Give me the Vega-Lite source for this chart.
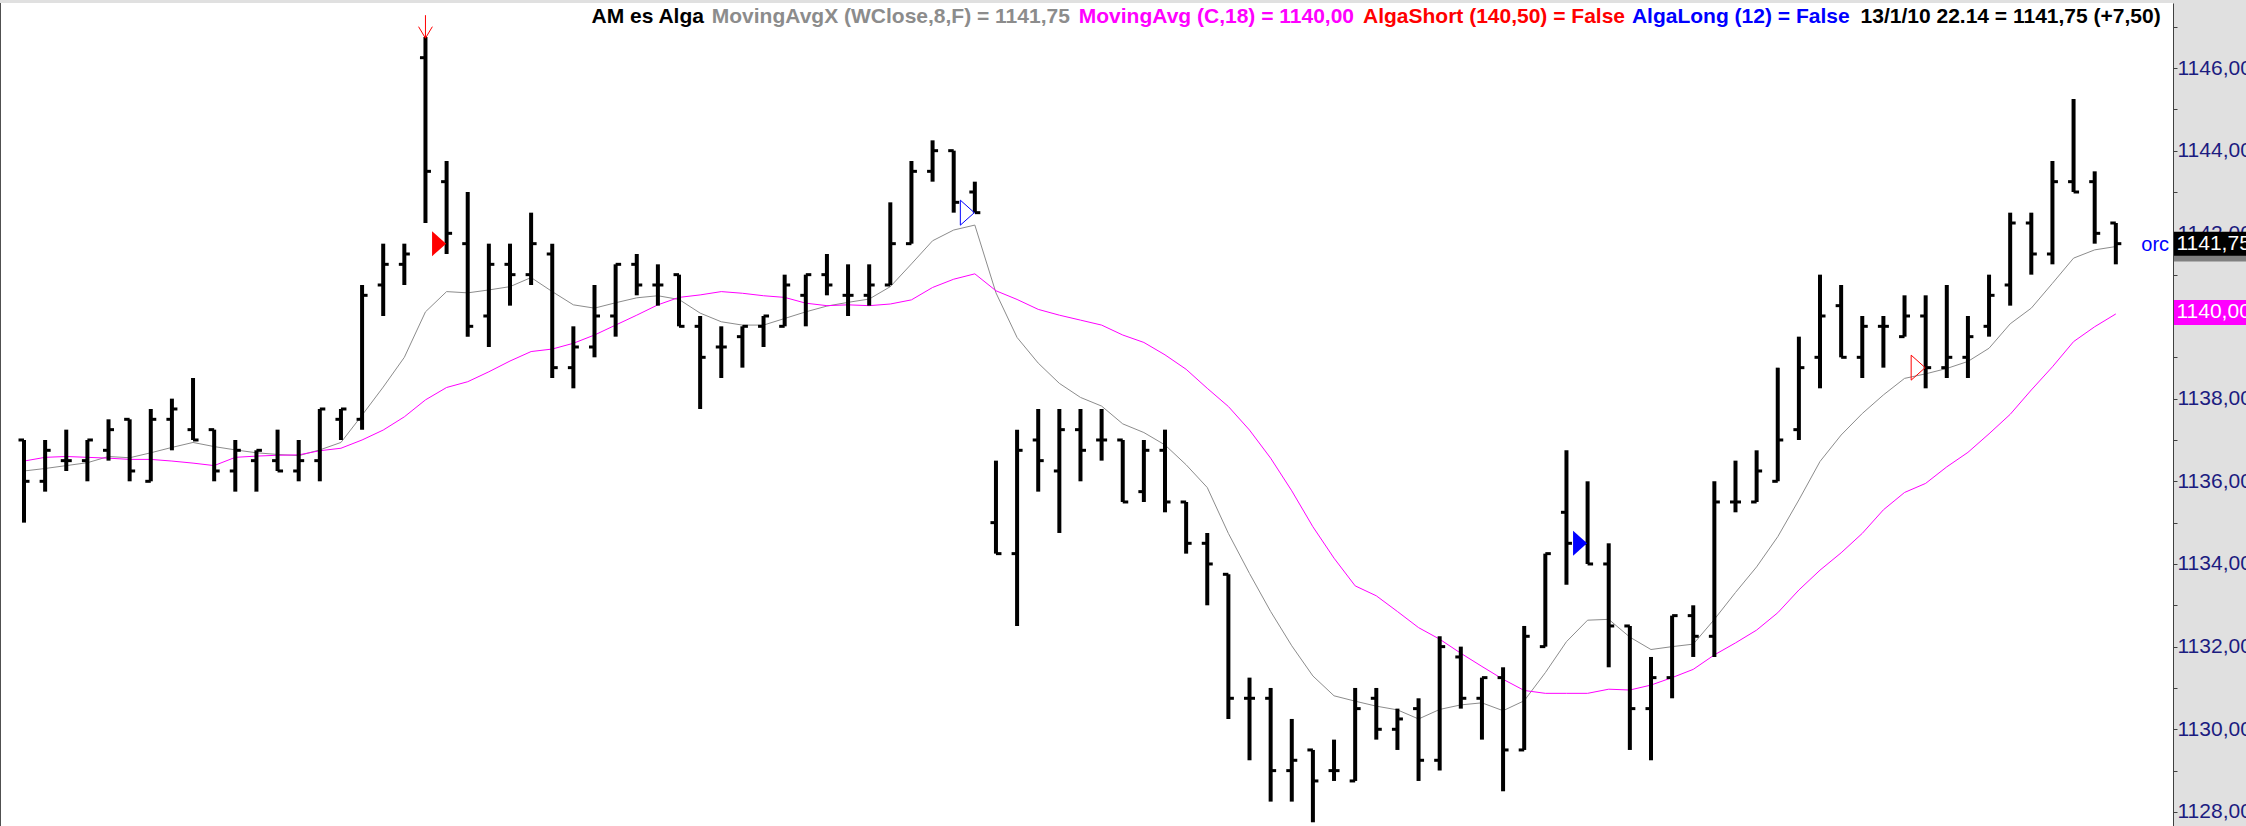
{
"$schema":"https://vega.github.io/schema/vega-lite/v6.json",
"width":2173,"height":823,"autosize":"none",
"padding":{"left":0,"top":3,"right":73,"bottom":0},
"background":"#e0e0e0",
"view":{"fill":"#ffffff","stroke":null},
"data":{"values":[
{"i":0,"o":1137,"h":1137,"l":1135,"c":1136,"a":1136.25,"m":1136.49},
{"i":1,"o":1136,"h":1137,"l":1135.75,"c":1136.75,"a":1136.31,"m":1136.58},
{"i":2,"o":1136.5,"h":1137.25,"l":1136.25,"c":1136.5,"a":1136.38,"m":1136.6},
{"i":3,"o":1136.5,"h":1137,"l":1136,"c":1137,"a":1136.45,"m":1136.58},
{"i":4,"o":1136.75,"h":1137.5,"l":1136.5,"c":1137.25,"a":1136.6,"m":1136.56},
{"i":5,"o":1137.5,"h":1137.5,"l":1136,"c":1136.25,"a":1136.57,"m":1136.53},
{"i":6,"o":1136,"h":1137.75,"l":1136,"c":1137.5,"a":1136.69,"m":1136.53},
{"i":7,"o":1137.5,"h":1138,"l":1136.75,"c":1137.75,"a":1136.82,"m":1136.49},
{"i":8,"o":1137.25,"h":1138.5,"l":1137,"c":1137,"a":1136.94,"m":1136.44},
{"i":9,"o":1137.25,"h":1137.25,"l":1136,"c":1136.25,"a":1136.84,"m":1136.38},
{"i":10,"o":1136.25,"h":1137,"l":1135.75,"c":1136.75,"a":1136.76,"m":1136.58},
{"i":11,"o":1136.5,"h":1136.75,"l":1135.75,"c":1136.75,"a":1136.69,"m":1136.61},
{"i":12,"o":1136.5,"h":1137.25,"l":1136.25,"c":1136.25,"a":1136.65,"m":1136.63},
{"i":13,"o":1136.25,"h":1137,"l":1136,"c":1136.5,"a":1136.62,"m":1136.64},
{"i":14,"o":1136.5,"h":1137.75,"l":1136,"c":1137.75,"a":1136.76,"m":1136.74},
{"i":15,"o":1137.5,"h":1137.75,"l":1137,"c":1137.75,"a":1136.94,"m":1136.8},
{"i":16,"o":1137.5,"h":1140.75,"l":1137.25,"c":1140.5,"a":1137.6,"m":1137.0},
{"i":17,"o":1140.75,"h":1141.75,"l":1140,"c":1141.25,"a":1138.28,"m":1137.24},
{"i":18,"o":1141.25,"h":1141.75,"l":1140.75,"c":1141.5,"a":1139.0,"m":1137.56},
{"i":19,"o":1146.25,"h":1146.75,"l":1142.25,"c":1143.5,"a":1140.1,"m":1137.97},
{"i":20,"o":1143.25,"h":1143.75,"l":1141.5,"c":1142,"a":1140.59,"m":1138.27},
{"i":21,"o":1141.75,"h":1143,"l":1139.5,"c":1139.75,"a":1140.56,"m":1138.41},
{"i":22,"o":1140,"h":1141.75,"l":1139.25,"c":1141.25,"a":1140.63,"m":1138.65},
{"i":23,"o":1141.25,"h":1141.75,"l":1140.25,"c":1141,"a":1140.71,"m":1138.91},
{"i":24,"o":1141,"h":1142.5,"l":1140.75,"c":1141.75,"a":1140.93,"m":1139.14},
{"i":25,"o":1141.5,"h":1141.75,"l":1138.5,"c":1138.75,"a":1140.59,"m":1139.2},
{"i":26,"o":1138.75,"h":1139.75,"l":1138.25,"c":1139.25,"a":1140.27,"m":1139.34},
{"i":27,"o":1139.25,"h":1140.75,"l":1139,"c":1140,"a":1140.19,"m":1139.54},
{"i":28,"o":1140,"h":1141.25,"l":1139.5,"c":1141.25,"a":1140.32,"m":1139.78},
{"i":29,"o":1141.25,"h":1141.5,"l":1140.5,"c":1140.75,"a":1140.44,"m":1140.02},
{"i":30,"o":1140.75,"h":1141.25,"l":1140.25,"c":1140.75,"a":1140.49,"m":1140.27},
{"i":31,"o":1141,"h":1141,"l":1139.75,"c":1139.75,"a":1140.4,"m":1140.45},
{"i":32,"o":1139.75,"h":1140,"l":1137.75,"c":1139,"a":1140.07,"m":1140.51},
{"i":33,"o":1139.25,"h":1139.75,"l":1138.5,"c":1139.25,"a":1139.86,"m":1140.59},
{"i":34,"o":1139.5,"h":1139.75,"l":1138.75,"c":1139.75,"a":1139.78,"m":1140.55},
{"i":35,"o":1139.75,"h":1140,"l":1139.25,"c":1140,"a":1139.78,"m":1140.49},
{"i":36,"o":1139.75,"h":1141,"l":1139.75,"c":1140.75,"a":1139.94,"m":1140.45},
{"i":37,"o":1140.5,"h":1141,"l":1139.75,"c":1141,"a":1140.1,"m":1140.31},
{"i":38,"o":1141,"h":1141.5,"l":1140.5,"c":1140.75,"a":1140.24,"m":1140.25},
{"i":39,"o":1140.5,"h":1141.25,"l":1140,"c":1140.5,"a":1140.33,"m":1140.27},
{"i":40,"o":1140.5,"h":1141.25,"l":1140.25,"c":1140.75,"a":1140.41,"m":1140.25},
{"i":41,"o":1140.75,"h":1142.75,"l":1140.75,"c":1141.75,"a":1140.71,"m":1140.29},
{"i":42,"o":1141.75,"h":1143.75,"l":1141.75,"c":1143.5,"a":1141.26,"m":1140.39},
{"i":43,"o":1143.5,"h":1144.25,"l":1143.25,"c":1144,"a":1141.82,"m":1140.69},
{"i":44,"o":1144,"h":1144,"l":1142.5,"c":1142.75,"a":1142.08,"m":1140.89},
{"i":45,"o":1143,"h":1143.25,"l":1142.5,"c":1142.5,"a":1142.2,"m":1141.02},
{"i":46,"o":1135,"h":1136.5,"l":1134.25,"c":1134.25,"a":1140.56,"m":1140.61},
{"i":47,"o":1134.25,"h":1137.25,"l":1132.5,"c":1136.75,"a":1139.48,"m":1140.4},
{"i":48,"o":1137,"h":1137.75,"l":1135.75,"c":1136.5,"a":1138.86,"m":1140.16},
{"i":49,"o":1136.25,"h":1137.75,"l":1134.75,"c":1137.25,"a":1138.37,"m":1140.02},
{"i":50,"o":1137.25,"h":1137.75,"l":1136,"c":1136.75,"a":1138.03,"m":1139.9},
{"i":51,"o":1137,"h":1137.75,"l":1136.5,"c":1137,"a":1137.82,"m":1139.78},
{"i":52,"o":1137,"h":1137,"l":1135.5,"c":1135.5,"a":1137.39,"m":1139.54},
{"i":53,"o":1135.75,"h":1137,"l":1135.5,"c":1136.75,"a":1137.18,"m":1139.36},
{"i":54,"o":1136.75,"h":1137.25,"l":1135.25,"c":1135.5,"a":1136.88,"m":1139.06},
{"i":55,"o":1135.5,"h":1135.5,"l":1134.25,"c":1134.5,"a":1136.4,"m":1138.71},
{"i":56,"o":1134.5,"h":1134.75,"l":1133,"c":1134,"a":1135.85,"m":1138.25},
{"i":57,"o":1133.75,"h":1133.75,"l":1130.25,"c":1130.75,"a":1134.74,"m":1137.81},
{"i":58,"o":1130.75,"h":1131.25,"l":1129.25,"c":1130.75,"a":1133.77,"m":1137.24},
{"i":59,"o":1130.75,"h":1131,"l":1128.25,"c":1129,"a":1132.85,"m":1136.56},
{"i":60,"o":1129,"h":1130.25,"l":1128.25,"c":1129.25,"a":1132.02,"m":1135.77},
{"i":61,"o":1129.5,"h":1129.5,"l":1127.75,"c":1128.75,"a":1131.29,"m":1134.9},
{"i":62,"o":1129,"h":1129.75,"l":1128.75,"c":1129,"a":1130.81,"m":1134.14},
{"i":63,"o":1128.75,"h":1131,"l":1128.75,"c":1130.5,"a":1130.68,"m":1133.47},
{"i":64,"o":1130.75,"h":1131,"l":1129.75,"c":1130,"a":1130.56,"m":1133.23},
{"i":65,"o":1130,"h":1130.5,"l":1129.5,"c":1130.25,"a":1130.47,"m":1132.85},
{"i":66,"o":1130.5,"h":1130.75,"l":1128.75,"c":1129.25,"a":1130.25,"m":1132.46},
{"i":67,"o":1129.25,"h":1132.25,"l":1129,"c":1132,"a":1130.48,"m":1132.18},
{"i":68,"o":1131.75,"h":1132,"l":1130.5,"c":1130.75,"a":1130.59,"m":1131.84},
{"i":69,"o":1130.75,"h":1131.25,"l":1129.75,"c":1131.25,"a":1130.64,"m":1131.52},
{"i":70,"o":1131.25,"h":1131.5,"l":1128.5,"c":1129.5,"a":1130.45,"m":1131.21},
{"i":71,"o":1129.5,"h":1132.5,"l":1129.5,"c":1132.25,"a":1130.69,"m":1130.94},
{"i":72,"o":1132,"h":1134.25,"l":1132,"c":1134.25,"a":1131.37,"m":1130.87},
{"i":73,"o":1135.25,"h":1136.75,"l":1133.5,"c":1134.5,"a":1132.12,"m":1130.87},
{"i":74,"o":1134.5,"h":1136,"l":1134,"c":1134,"a":1132.64,"m":1130.87},
{"i":75,"o":1134,"h":1134.5,"l":1131.5,"c":1132.5,"a":1132.66,"m":1130.97},
{"i":76,"o":1132.5,"h":1132.5,"l":1129.5,"c":1130.5,"a":1132.23,"m":1130.95},
{"i":77,"o":1130.5,"h":1131.75,"l":1129.25,"c":1131.25,"a":1131.93,"m":1131.07},
{"i":78,"o":1131.25,"h":1132.75,"l":1130.75,"c":1132.75,"a":1132.0,"m":1131.25},
{"i":79,"o":1132.75,"h":1133,"l":1131.75,"c":1132.25,"a":1132.06,"m":1131.45},
{"i":80,"o":1132.25,"h":1136,"l":1131.75,"c":1135.5,"a":1132.66,"m":1131.8},
{"i":81,"o":1135.5,"h":1136.5,"l":1135.25,"c":1135.5,"a":1133.31,"m":1132.09},
{"i":82,"o":1135.5,"h":1136.75,"l":1135.5,"c":1136.25,"a":1133.93,"m":1132.4},
{"i":83,"o":1136,"h":1138.75,"l":1136,"c":1137,"a":1134.66,"m":1132.82},
{"i":84,"o":1137.25,"h":1139.5,"l":1137,"c":1138.75,"a":1135.55,"m":1133.37},
{"i":85,"o":1139,"h":1141,"l":1138.25,"c":1140,"a":1136.48,"m":1133.85},
{"i":86,"o":1140.25,"h":1140.75,"l":1139,"c":1139,"a":1137.12,"m":1134.27},
{"i":87,"o":1139,"h":1140,"l":1138.5,"c":1139.75,"a":1137.64,"m":1134.74},
{"i":88,"o":1139.75,"h":1140,"l":1138.75,"c":1139.75,"a":1138.09,"m":1135.31},
{"i":89,"o":1139.5,"h":1140.5,"l":1139.5,"c":1140,"a":1138.49,"m":1135.73},
{"i":90,"o":1140,"h":1140.5,"l":1138.25,"c":1138.75,"a":1138.6,"m":1135.95},
{"i":91,"o":1138.75,"h":1140.75,"l":1138.5,"c":1139,"a":1138.73,"m":1136.35},
{"i":92,"o":1139,"h":1140,"l":1138.5,"c":1139.5,"a":1138.9,"m":1136.7},
{"i":93,"o":1139.75,"h":1141,"l":1139.5,"c":1140.5,"a":1139.22,"m":1137.15},
{"i":94,"o":1140.75,"h":1142.5,"l":1140.25,"c":1142.25,"a":1139.81,"m":1137.62},
{"i":95,"o":1142.25,"h":1142.5,"l":1141,"c":1141.5,"a":1140.19,"m":1138.21},
{"i":96,"o":1141.5,"h":1143.75,"l":1141.25,"c":1143.25,"a":1140.79,"m":1138.77},
{"i":97,"o":1143.25,"h":1145.25,"l":1143,"c":1143,"a":1141.4,"m":1139.38},
{"i":98,"o":1143.25,"h":1143.5,"l":1141.75,"c":1142,"a":1141.6,"m":1139.74},
{"i":99,"o":1142.25,"h":1142.25,"l":1141.25,"c":1141.75,"a":1141.68,"m":1140.05}
]},
"layer":[
{"mark":{"type":"line","color":"#8c8c8c","strokeWidth":1},
 "encoding":{
  "x":{"field":"i","type":"quantitative","scale":{"domain":[-1.136,101.706],"nice":false,"zero":false},"axis":null},
  "y":{"field":"a","type":"quantitative","title":null,"scale":{"domain":[1127.66,1147.573],"nice":false,"zero":false},
   "axis":{"orient":"right","title":null,"grid":false,"domain":true,"ticks":true,"labels":true,"domainColor":"#404040","tickColor":"#404040","tickSize":4,"labelColor":"#1c1c80","labelFont":"Liberation Sans","labelFontSize":21,"labelPadding":0,"labelOverlap":false,"labelFlush":false,"labelBaseline":"middle","labelAlign":"left",
    "values":[1128,1128.5,1129,1129.5,1130,1130.5,1131,1131.5,1132,1132.5,1133,1133.5,1134,1134.5,1135,1135.5,1136,1136.5,1137,1137.5,1138,1138.5,1139,1139.5,1140,1140.5,1141,1141.5,1142,1142.5,1143,1143.5,1144,1144.5,1145,1145.5,1146,1146.5,1147,1147.5],
    "labelExpr":"datum.value % 2 == 0 ? replace(format(datum.value, '.2f'), '.', ',') : ''"}}}},
{"mark":{"type":"line","color":"#ff00ff","strokeWidth":1},
 "encoding":{"x":{"field":"i","type":"quantitative","axis":null},"y":{"field":"m","type":"quantitative","title":null}}},
{"mark":{"type":"rule","color":"#000000","strokeWidth":4},
 "encoding":{"x":{"field":"i","type":"quantitative","axis":null},"y":{"field":"l","type":"quantitative","title":null},"y2":{"field":"h"}}},
{"mark":{"type":"rule","color":"#000000","strokeWidth":3,"x2Offset":-5.5},
 "encoding":{"x":{"field":"i","type":"quantitative","axis":null},"x2":{"field":"i"},"y":{"field":"o","type":"quantitative","title":null}}},
{"mark":{"type":"rule","color":"#000000","strokeWidth":3,"x2Offset":5.5},
 "encoding":{"x":{"field":"i","type":"quantitative","axis":null},"x2":{"field":"i"},"y":{"field":"c","type":"quantitative","title":null}}},
{"data":{"values":[{"k":"border"}]},"mark":{"type":"rule","color":"#505050","strokeWidth":2},
 "encoding":{"x":{"datum":-1.136,"type":"quantitative","axis":null}}},
{"data":{"values":[{"i":20,"v":1141.75}]},
 "mark":{"type":"point","shape":"M-0.56,-1L0.56,0L-0.56,1Z","size":625,"filled":true,"color":"#ff0000","opacity":1,"xOffset":-7.5},
 "encoding":{"x":{"field":"i","type":"quantitative","axis":null},"y":{"field":"v","type":"quantitative","title":null}}},
{"data":{"values":[{"i":45,"v":1142.5}]},
 "mark":{"type":"point","shape":"M-0.56,-1L0.56,0L-0.56,1Z","size":625,"filled":false,"color":"#0000ff","strokeWidth":1,"opacity":1,"xOffset":-7.5},
 "encoding":{"x":{"field":"i","type":"quantitative","axis":null},"y":{"field":"v","type":"quantitative","title":null}}},
{"data":{"values":[{"i":74,"v":1134.5}]},
 "mark":{"type":"point","shape":"M-0.56,-1L0.56,0L-0.56,1Z","size":625,"filled":true,"color":"#0000ff","opacity":1,"xOffset":-7.5},
 "encoding":{"x":{"field":"i","type":"quantitative","axis":null},"y":{"field":"v","type":"quantitative","title":null}}},
{"data":{"values":[{"i":90,"v":1138.75}]},
 "mark":{"type":"point","shape":"M-0.56,-1L0.56,0L-0.56,1Z","size":625,"filled":false,"color":"#ff0000","strokeWidth":1,"opacity":1,"xOffset":-7.5},
 "encoding":{"x":{"field":"i","type":"quantitative","axis":null},"y":{"field":"v","type":"quantitative","title":null}}},
{"data":{"values":[{"i":19,"v":1147.0}]},
 "mark":{"type":"point","shape":"M0,-1L0,1M-0.6,0L0,1L0.6,0","size":529,"filled":false,"color":"#ff0000","strokeWidth":1,"opacity":1},
 "encoding":{"x":{"field":"i","type":"quantitative","axis":null},"y":{"field":"v","type":"quantitative","title":null}}},
{"data":{"values":[{"t":"AM es Alga"}]},
 "mark":{"type":"text","font":"Liberation Sans","fontWeight":"bold","fontSize":21,"align":"left","baseline":"alphabetic","color":"#000000"},
 "encoding":{"x":{"datum":26.86,"type":"quantitative","axis":null},"y":{"datum":1147.09,"type":"quantitative","title":null},"text":{"field":"t"}}},
{"data":{"values":[{"t":"MovingAvgX (WClose,8,F) = 1141,75"}]},
 "mark":{"type":"text","font":"Liberation Sans","fontWeight":"bold","fontSize":21,"align":"left","baseline":"alphabetic","color":"#8c8c8c"},
 "encoding":{"x":{"datum":32.55,"type":"quantitative","axis":null},"y":{"datum":1147.09,"type":"quantitative","title":null},"text":{"field":"t"}}},
{"data":{"values":[{"t":"MovingAvg (C,18) = 1140,00"}]},
 "mark":{"type":"text","font":"Liberation Sans","fontWeight":"bold","fontSize":21,"align":"left","baseline":"alphabetic","color":"#ff00ff"},
 "encoding":{"x":{"datum":49.92,"type":"quantitative","axis":null},"y":{"datum":1147.09,"type":"quantitative","title":null},"text":{"field":"t"}}},
{"data":{"values":[{"t":"AlgaShort (140,50) = False"}]},
 "mark":{"type":"text","font":"Liberation Sans","fontWeight":"bold","fontSize":21,"align":"left","baseline":"alphabetic","color":"#ff0000"},
 "encoding":{"x":{"datum":63.37,"type":"quantitative","axis":null},"y":{"datum":1147.09,"type":"quantitative","title":null},"text":{"field":"t"}}},
{"data":{"values":[{"t":"AlgaLong (12) = False"}]},
 "mark":{"type":"text","font":"Liberation Sans","fontWeight":"bold","fontSize":21,"align":"left","baseline":"alphabetic","color":"#0000ff"},
 "encoding":{"x":{"datum":76.1,"type":"quantitative","axis":null},"y":{"datum":1147.09,"type":"quantitative","title":null},"text":{"field":"t"}}},
{"data":{"values":[{"t":"13/1/10 22.14 = 1141,75 (+7,50)"}]},
 "mark":{"type":"text","font":"Liberation Sans","fontWeight":"bold","fontSize":21,"align":"left","baseline":"alphabetic","color":"#000000"},
 "encoding":{"x":{"datum":86.92,"type":"quantitative","axis":null},"y":{"datum":1147.09,"type":"quantitative","title":null},"text":{"field":"t"}}},
{"data":{"values":[{"v":1141.61}]},
 "mark":{"type":"rule","color":"#808080","strokeWidth":24},
 "encoding":{"x":{"datum":101.75,"type":"quantitative","axis":null},"x2":{"datum":106},"y":{"field":"v","type":"quantitative","title":null}}},
{"data":{"values":[{"v":1141.75,"t":"1141,75"}]},
 "mark":{"type":"rule","color":"#000000","strokeWidth":24},
 "encoding":{"x":{"datum":101.75,"type":"quantitative","axis":null},"x2":{"datum":106},"y":{"field":"v","type":"quantitative","title":null}}},
{"data":{"values":[{"v":1141.75,"t":"1141,75"}]},
 "mark":{"type":"text","color":"#ffffff","font":"Liberation Sans","fontSize":21,"align":"left","baseline":"middle"},
 "encoding":{"x":{"datum":101.87,"type":"quantitative","axis":null},"y":{"field":"v","type":"quantitative","title":null},"text":{"field":"t"}}},
{"data":{"values":[{"v":1140.0,"t":"1140,00"}]},
 "mark":{"type":"rule","color":"#ff00ff","strokeWidth":25,"yOffset":-3.5},
 "encoding":{"x":{"datum":101.75,"type":"quantitative","axis":null},"x2":{"datum":106},"y":{"field":"v","type":"quantitative","title":null}}},
{"data":{"values":[{"v":1140.0,"t":"1140,00"}]},
 "mark":{"type":"text","color":"#ffffff","font":"Liberation Sans","fontSize":21,"align":"left","baseline":"middle","yOffset":-3.5},
 "encoding":{"x":{"datum":101.87,"type":"quantitative","axis":null},"y":{"field":"v","type":"quantitative","title":null},"text":{"field":"t"}}},
{"data":{"values":[{"v":1141.72,"t":"orc"}]},
 "mark":{"type":"text","color":"#0000ff","font":"Liberation Sans","fontSize":20,"align":"right","baseline":"middle"},
 "encoding":{"x":{"datum":101.52,"type":"quantitative","axis":null},"y":{"field":"v","type":"quantitative","title":null},"text":{"field":"t"}}}
]
}
